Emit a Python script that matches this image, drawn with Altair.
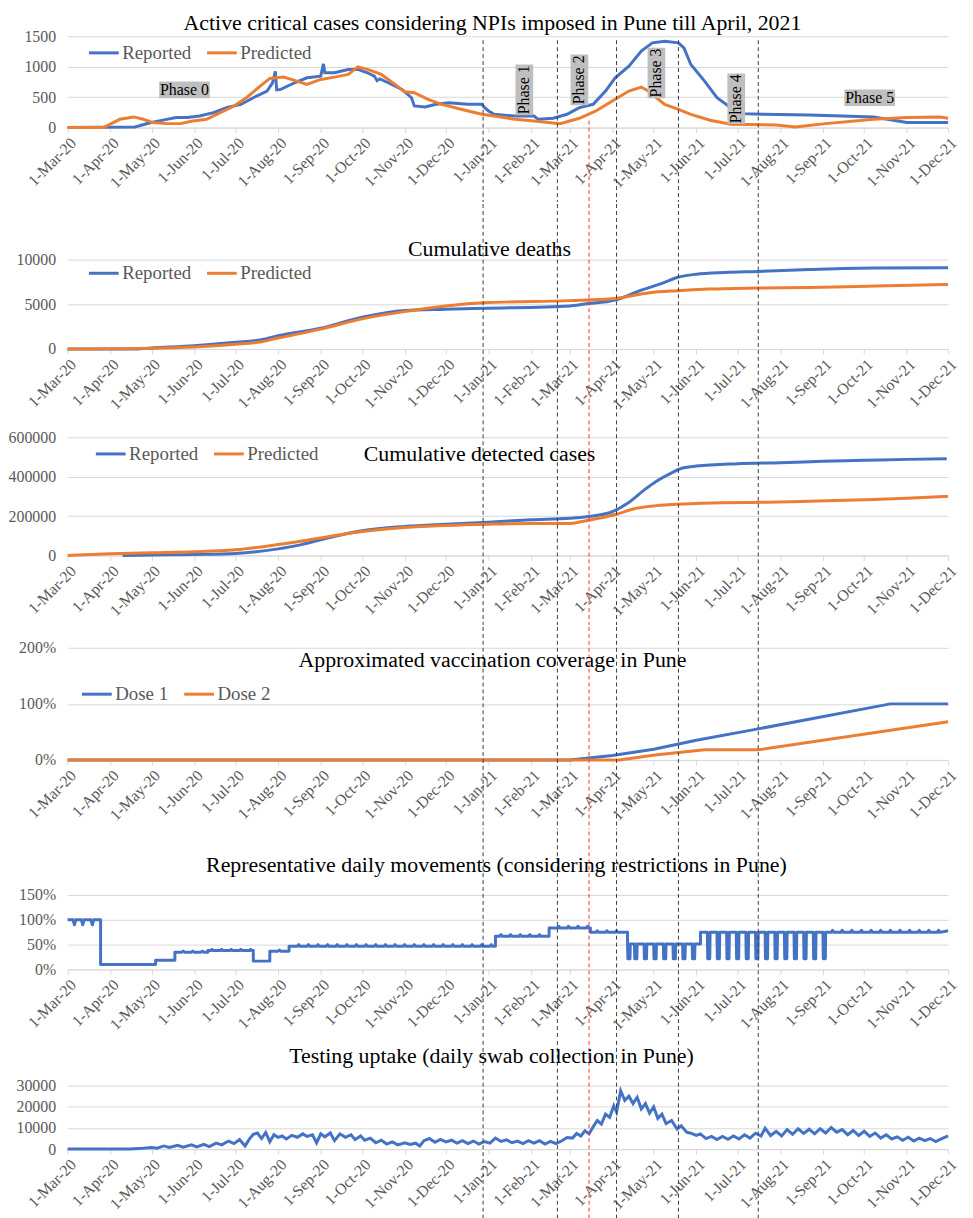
import altair as alt
import pandas as pd

FONT = "Liberation Serif"
BLUE = "#4472C4"
ORANGE = "#ED7D31"
GRID = "#D9D9D9"
GREY = "#595959"
W = 887

# ---------------- data ----------------
crit_reported = [
    ("2020-03-01", 0), ("2020-04-19", 10), ("2020-04-30", 80), ("2020-05-12", 135), ("2020-05-19", 165),
    ("2020-05-27", 165), ("2020-06-05", 190), ("2020-06-15", 245), ("2020-06-25", 330), ("2020-07-05", 380),
    ("2020-07-14", 490), ("2020-07-24", 600), ("2020-07-28", 735), ("2020-07-30", 925), ("2020-07-31", 620),
    ("2020-08-03", 627), ("2020-08-13", 736), ("2020-08-22", 818), ("2020-09-01", 845), ("2020-09-03", 1045),
    ("2020-09-04", 900), ("2020-09-11", 900), ("2020-09-21", 955), ("2020-09-28", 955), ("2020-10-05", 900),
    ("2020-10-10", 845), ("2020-10-12", 770), ("2020-10-14", 800), ("2020-10-20", 736), ("2020-10-30", 627),
    ("2020-11-06", 490), ("2020-11-08", 355), ("2020-11-16", 338), ("2020-11-23", 380), ("2020-12-03", 409),
    ("2020-12-17", 382), ("2020-12-27", 382), ("2020-12-29", 330), ("2021-01-01", 273), ("2021-01-05", 218),
    ("2021-01-20", 190), ("2021-02-03", 190), ("2021-02-06", 136), ("2021-02-17", 153), ("2021-02-27", 218),
    ("2021-03-08", 327), ("2021-03-18", 382), ("2021-03-27", 600), ("2021-04-03", 818), ("2021-04-13", 1009),
    ("2021-04-22", 1255), ("2021-04-30", 1391), ("2021-05-09", 1418), ("2021-05-19", 1391), ("2021-05-23", 1309),
    ("2021-05-28", 1036), ("2021-06-07", 764), ("2021-06-16", 491), ("2021-06-26", 327), ("2021-07-05", 229),
    ("2021-07-19", 218), ("2021-08-22", 207), ("2021-09-15", 190), ("2021-10-08", 175), ("2021-11-01", 82),
    ("2021-12-01", 82),
]
crit_predicted = [
    ("2020-03-01", 0), ("2020-03-27", 0), ("2020-03-31", 44), ("2020-04-08", 136), ("2020-04-18", 175),
    ("2020-04-25", 136), ("2020-05-02", 82), ("2020-05-12", 65), ("2020-05-22", 65), ("2020-05-31", 109),
    ("2020-06-10", 136), ("2020-06-20", 245), ("2020-06-30", 355), ("2020-07-09", 490), ("2020-07-19", 682),
    ("2020-07-26", 807), ("2020-08-05", 829), ("2020-08-13", 775), ("2020-08-22", 709), ("2020-09-01", 791),
    ("2020-09-11", 829), ("2020-09-21", 873), ("2020-09-28", 998), ("2020-10-05", 955), ("2020-10-15", 873),
    ("2020-10-25", 709), ("2020-11-01", 589), ("2020-11-08", 573), ("2020-11-18", 464), ("2020-11-28", 382),
    ("2020-12-12", 300), ("2020-12-27", 218), ("2021-01-05", 190), ("2021-01-20", 136), ("2021-02-03", 109),
    ("2021-02-22", 65), ("2021-03-08", 153), ("2021-03-20", 273), ("2021-04-03", 464), ("2021-04-13", 600),
    ("2021-04-22", 666), ("2021-04-27", 600), ("2021-05-09", 382), ("2021-05-19", 300), ("2021-05-28", 218),
    ("2021-06-11", 120), ("2021-06-26", 55), ("2021-07-29", 44), ("2021-08-12", 11), ("2021-09-03", 65),
    ("2021-10-08", 136), ("2021-11-01", 164), ("2021-11-25", 175), ("2021-12-01", 153),
]
phase_h = [("2020-05-25", 620, "Phase 0"), ("2021-10-05", 490, "Phase 5")]
phase_v = [("2021-01-27", 620, "Phase 1"), ("2021-03-08", 783, "Phase 2"),
           ("2021-05-03", 897, "Phase 3"), ("2021-06-30", 473, "Phase 4")]

deaths_reported = [
    ("2020-03-01", 0), ("2020-04-20", 0), ("2020-05-01", 110), ("2020-06-01", 370), ("2020-07-01", 740),
    ("2020-07-20", 1040), ("2020-08-01", 1480), ("2020-09-01", 2330), ("2020-10-01", 3550), ("2020-11-01", 4300),
    ("2020-12-01", 4440), ("2021-01-01", 4560), ("2021-03-01", 4820), ("2021-03-12", 5040), ("2021-04-03", 5480),
    ("2021-04-22", 6590), ("2021-05-07", 7330), ("2021-05-18", 8000), ("2021-06-01", 8370), ("2021-06-22", 8560),
    ("2021-07-16", 8670), ("2021-08-22", 8890), ("2021-10-09", 9070), ("2021-12-01", 9080),
]
deaths_predicted = [
    ("2020-03-01", 0), ("2020-04-01", 10), ("2020-05-01", 70), ("2020-06-01", 220), ("2020-07-01", 520),
    ("2020-07-20", 815), ("2020-08-01", 1220), ("2020-09-01", 2220), ("2020-10-01", 3370), ("2020-11-01", 4190),
    ("2020-12-01", 4820), ("2021-01-01", 5190), ("2021-03-01", 5410), ("2021-04-03", 5650), ("2021-04-28", 6300),
    ("2021-05-18", 6520), ("2021-06-10", 6700), ("2021-07-16", 6820), ("2021-08-22", 6890), ("2021-10-09", 7040),
    ("2021-12-01", 7220),
]

cases_reported = [
    ("2020-04-10", 0), ("2020-05-01", 1700), ("2020-06-01", 5000), ("2020-07-01", 10000), ("2020-08-01", 33500),
    ("2020-08-18", 55000), ("2020-09-01", 80000), ("2020-10-01", 125700), ("2020-11-01", 147500),
    ("2020-12-01", 159000), ("2021-01-01", 169000), ("2021-02-01", 181000), ("2021-03-01", 189000),
    ("2021-03-20", 203000), ("2021-03-31", 219500), ("2021-04-12", 265000), ("2021-04-24", 332000),
    ("2021-05-03", 377000), ("2021-05-13", 415600), ("2021-05-22", 444000), ("2021-06-01", 454000),
    ("2021-07-01", 466000), ("2021-08-01", 471000), ("2021-09-01", 478000), ("2021-10-01", 483000),
    ("2021-11-01", 488000), ("2021-11-30", 491000),
]
cases_predicted = [
    ("2020-03-01", 0), ("2020-04-01", 8400), ("2020-05-01", 13400), ("2020-06-01", 18400), ("2020-07-01", 28500),
    ("2020-08-01", 55300), ("2020-09-01", 88800), ("2020-10-01", 122000), ("2020-11-01", 142000),
    ("2020-12-01", 152500), ("2021-01-01", 159000), ("2021-02-01", 162500), ("2021-03-01", 162500),
    ("2021-03-10", 172600), ("2021-03-20", 186000), ("2021-04-04", 209500), ("2021-04-16", 236000),
    ("2021-05-03", 253000), ("2021-05-22", 261500), ("2021-06-21", 268000), ("2021-07-23", 270000),
    ("2021-08-28", 276500), ("2021-10-01", 283000), ("2021-11-01", 290000), ("2021-12-01", 300000),
]

dose1 = [("2020-03-01", 0), ("2021-03-01", 0), ("2021-04-01", 8), ("2021-05-01", 19), ("2021-06-01", 35),
         ("2021-07-15", 55), ("2021-10-20", 100), ("2021-12-01", 100)]
dose2 = [("2020-03-01", 0), ("2021-04-06", 0), ("2021-05-02", 9), ("2021-06-07", 18), ("2021-07-16", 18),
         ("2021-12-01", 68)]

# movements: (segment start, base level %, event level %, event dates, event length in days)
mob_segments = [
    ("2020-03-01", 100, 90, ["2020-03-06", "2020-03-12", "2020-03-19"], 1),
    ("2020-03-25", 10, 10, [], 1),
    ("2020-05-04", 18.7, 18.7, [], 1),
    ("2020-05-18", 34.7, 37, ["2020-05-24", "2020-05-31", "2020-06-07"], 1),
    ("2020-06-11", 38, 40.5, ["2020-06-14", "2020-06-21", "2020-06-28", "2020-07-05", "2020-07-12"], 1),
    ("2020-07-14", 16.7, 16.7, [], 1),
    ("2020-07-26", 36.7, 39, ["2020-08-02"], 1),
    ("2020-08-09", 46.7, 50, ["2020-08-16", "2020-08-23", "2020-08-30", "2020-09-06", "2020-09-13",
                              "2020-09-20", "2020-09-27", "2020-10-04", "2020-10-11", "2020-10-18",
                              "2020-10-25", "2020-11-01", "2020-11-08", "2020-11-15", "2020-11-22",
                              "2020-11-29", "2020-12-06", "2020-12-13", "2020-12-20", "2020-12-27",
                              "2021-01-03"], 1),
    ("2021-01-06", 66.7, 70, ["2021-01-10", "2021-01-17", "2021-01-24", "2021-01-31", "2021-02-07"], 1),
    ("2021-02-14", 83.3, 87, ["2021-02-21", "2021-02-28", "2021-03-07", "2021-03-14"], 1),
    ("2021-03-16", 74.7, 78, ["2021-03-21", "2021-03-28", "2021-04-04"], 1),
    ("2021-04-12", 51.3, 21.3, ["2021-04-12", "2021-04-17", "2021-04-24", "2021-05-01", "2021-05-08",
                                "2021-05-15", "2021-05-22", "2021-05-29"], 2),
    ("2021-06-04", 74.7, 21.3, ["2021-06-09", "2021-06-16", "2021-06-23", "2021-06-30", "2021-07-07",
                                "2021-07-14", "2021-07-21", "2021-07-28", "2021-08-04", "2021-08-11",
                                "2021-08-18", "2021-08-25", "2021-09-01"], 2),
    ("2021-09-03", 74.7, 79, ["2021-09-08", "2021-09-15", "2021-09-22", "2021-09-29", "2021-10-06",
                              "2021-10-13", "2021-10-20", "2021-10-27", "2021-11-03", "2021-11-10",
                              "2021-11-17", "2021-11-24"], 1),
]
mob_end = ("2021-12-01", 78)

testing = [
    ("2020-03-01", 0), ("2020-04-15", 0), ("2020-04-25", 400), ("2020-05-01", 800), ("2020-05-05", 400),
    ("2020-05-10", 1500), ("2020-05-14", 800), ("2020-05-20", 1800), ("2020-05-24", 900), ("2020-05-30", 2000),
    ("2020-06-03", 1000), ("2020-06-08", 2200), ("2020-06-12", 1200), ("2020-06-17", 2800), ("2020-06-21", 2000),
    ("2020-06-26", 3800), ("2020-06-30", 2600), ("2020-07-04", 4500), ("2020-07-08", 1500), ("2020-07-11", 4600),
    ("2020-07-14", 7000), ("2020-07-17", 7600), ("2020-07-20", 5000), ("2020-07-23", 7800), ("2020-07-26", 3500),
    ("2020-07-29", 6800), ("2020-08-01", 5500), ("2020-08-04", 6200), ("2020-08-07", 4800), ("2020-08-11", 6500),
    ("2020-08-15", 5600), ("2020-08-19", 7200), ("2020-08-22", 6000), ("2020-08-26", 6800), ("2020-08-29", 3000),
    ("2020-09-01", 7200), ("2020-09-04", 5800), ("2020-09-08", 7600), ("2020-09-11", 4000), ("2020-09-15", 7200),
    ("2020-09-19", 5600), ("2020-09-23", 6800), ("2020-09-26", 4500), ("2020-09-30", 6200), ("2020-10-03", 4200),
    ("2020-10-07", 5200), ("2020-10-11", 3000), ("2020-10-15", 4200), ("2020-10-19", 2400), ("2020-10-23", 3400),
    ("2020-10-27", 2000), ("2020-11-01", 3000), ("2020-11-05", 2200), ("2020-11-09", 2800), ("2020-11-12", 1500),
    ("2020-11-15", 4000), ("2020-11-19", 5000), ("2020-11-23", 3200), ("2020-11-27", 4600), ("2020-12-01", 3400),
    ("2020-12-05", 4200), ("2020-12-09", 2800), ("2020-12-13", 4000), ("2020-12-17", 2600), ("2020-12-21", 3800),
    ("2020-12-25", 2400), ("2020-12-29", 3600), ("2021-01-02", 2800), ("2021-01-06", 5200), ("2021-01-10", 3600),
    ("2021-01-14", 4400), ("2021-01-18", 3000), ("2021-01-22", 3800), ("2021-01-26", 2600), ("2021-01-30", 4000),
    ("2021-02-03", 2800), ("2021-02-07", 4000), ("2021-02-11", 2400), ("2021-02-15", 3600), ("2021-02-19", 2600),
    ("2021-02-23", 3800), ("2021-02-27", 5500), ("2021-03-03", 5200), ("2021-03-06", 7400), ("2021-03-09", 6200),
    ("2021-03-12", 8600), ("2021-03-15", 7200), ("2021-03-18", 10500), ("2021-03-21", 13500), ("2021-03-24", 11800),
    ("2021-03-27", 16500), ("2021-03-30", 15000), ("2021-04-02", 20500), ("2021-04-04", 17500), ("2021-04-07", 27500),
    ("2021-04-10", 23000), ("2021-04-13", 25000), ("2021-04-16", 21500), ("2021-04-19", 24500), ("2021-04-22", 19000),
    ("2021-04-25", 21500), ("2021-04-28", 17000), ("2021-05-01", 20000), ("2021-05-04", 14500), ("2021-05-07", 16500),
    ("2021-05-10", 12000), ("2021-05-14", 13500), ("2021-05-18", 9500), ("2021-05-21", 11000), ("2021-05-25", 8000),
    ("2021-05-28", 7500), ("2021-06-01", 6500), ("2021-06-04", 7200), ("2021-06-08", 5000), ("2021-06-12", 6000),
    ("2021-06-16", 4500), ("2021-06-20", 6000), ("2021-06-24", 4600), ("2021-06-28", 6200), ("2021-07-02", 4800),
    ("2021-07-06", 6800), ("2021-07-10", 5200), ("2021-07-14", 7500), ("2021-07-18", 6200), ("2021-07-21", 9800),
    ("2021-07-25", 6400), ("2021-07-29", 8400), ("2021-08-02", 6200), ("2021-08-06", 9200), ("2021-08-10", 7000),
    ("2021-08-14", 9600), ("2021-08-18", 7400), ("2021-08-22", 9400), ("2021-08-26", 7200), ("2021-08-30", 9600),
    ("2021-09-03", 7600), ("2021-09-07", 10200), ("2021-09-11", 8000), ("2021-09-15", 9200), ("2021-09-19", 6800),
    ("2021-09-23", 8800), ("2021-09-27", 6400), ("2021-10-01", 8400), ("2021-10-05", 6000), ("2021-10-09", 7600),
    ("2021-10-13", 5200), ("2021-10-17", 6800), ("2021-10-21", 4800), ("2021-10-25", 5800), ("2021-10-29", 4200),
    ("2021-11-02", 5600), ("2021-11-06", 3800), ("2021-11-10", 5200), ("2021-11-14", 4000), ("2021-11-18", 5000),
    ("2021-11-22", 3600), ("2021-11-26", 4800), ("2021-12-01", 6200),
]

npi_dates = ["2020-12-28", "2021-02-20", "2021-04-04", "2021-05-19", "2021-07-16"]
red_date = ["2021-03-15"]

titles = [
    "Active critical cases considering NPIs imposed in Pune till April, 2021",
    "Cumulative deaths",
    "Cumulative detected cases",
    "Approximated vaccination coverage in Pune",
    "Representative daily movements (considering restrictions in Pune)",
    "Testing uptake (daily swab collection in Pune)",
]


# ---------------- helpers ----------------
def frame(pairs, series=None):
    df = pd.DataFrame({"date": pd.to_datetime([p[0] for p in pairs]), "value": [p[1] for p in pairs]})
    if series is not None:
        df["series"] = series
    return df


def mobility_frame():
    """Turn the segment table into an ordered polyline (vertical jumps between levels)."""
    rows = []
    prev = None
    day = pd.Timedelta(days=1)
    q = pd.Timedelta(hours=6)
    for start, base, ev, dates, length in mob_segments:
        t0 = pd.Timestamp(start)
        if prev is not None:
            rows.append((t0, prev))
        rows.append((t0, base))
        for d in dates:
            t = pd.Timestamp(d)
            if length == 1:       # short spike / dip
                rows += [(t - day, base), (t, ev), (t + day, base)]
            else:                 # multi-day trough
                rows += [(t, base), (t + q, ev), (t + length * day - q, ev), (t + length * day, base)]
        prev = base
    rows.append((pd.Timestamp(mob_end[0]), mob_end[1]))
    df = pd.DataFrame(rows, columns=["date", "value"])
    df["i"] = range(len(df))
    return df


XDOM = [alt.DateTime(year=2020, month=3, date=1), alt.DateTime(year=2021, month=12, date=1)]


def xenc():
    return alt.X(
        "date:T", title=None,
        scale=alt.Scale(domain=XDOM, nice=False),
        axis=alt.Axis(format="%-d-%b-%y", tickCount={"interval": "month", "step": 1},
                      labelAngle=-45, labelOverlap=False, labelFlush=False, grid=False,
                      domainColor=GRID, tickColor=GRID, tickSize=5,
                      labelFont=FONT, labelFontSize=16, labelColor=GREY, labelPadding=2),
    )


def yenc(dmax, values, expr=None):
    ax = dict(values=values, grid=True, gridColor=GRID, domain=False, ticks=False,
              labelFont=FONT, labelFontSize=16, labelColor=GREY, labelPadding=12)
    if expr:
        ax["labelExpr"] = expr
    else:
        ax["format"] = "d"
    return alt.Y("value:Q", title=None, scale=alt.Scale(domain=[0, dmax], nice=False),
                 axis=alt.Axis(**ax))


def legend(lx, ly):
    return alt.Legend(orient="none", legendX=lx, legendY=ly, direction="horizontal", title=None,
                      symbolType="stroke", symbolSize=900, symbolStrokeWidth=3,
                      labelFont=FONT, labelFontSize=19, labelColor=GREY, labelOffset=2,
                      columnPadding=9, padding=0)


def series_layers(pairs_list, names, colors, ydef, leg, interp="linear"):
    out = []
    for pairs, name in zip(pairs_list, names):
        col = alt.Color("series:N", scale=alt.Scale(domain=names, range=colors),
                        legend=leg if leg is not None else None)
        out.append(alt.Chart(frame(pairs, name)).mark_line(strokeWidth=3, interpolate=interp)
                   .encode(x=xenc(), y=ydef, color=col))
    return out


def rule_layers(h, top, bot, black_top=None, red_top=None):
    b0 = -top if black_top is None else black_top
    r0 = -top if red_top is None else red_top
    black = alt.Chart(frame([(d, 0) for d in npi_dates])).mark_rule(
        color="#3C3C3C", strokeDash=[4, 3], strokeWidth=1
    ).encode(x=xenc(), y=alt.value(b0), y2=alt.value(h + bot))
    red = alt.Chart(frame([(d, 0) for d in red_date])).mark_rule(
        color="#FF3030", strokeDash=[4, 3], strokeWidth=1
    ).encode(x=xenc(), y=alt.value(r0), y2=alt.value(h + bot))
    return [black, red]


def title_layer(text, tx, ty):
    return alt.Chart(pd.DataFrame({"k": [0]})).mark_text(
        text=text, font=FONT, fontSize=22, color="black", align="center", baseline="middle"
    ).encode(x=alt.value(tx), y=alt.value(ty))


# ---------------- panel 1 ----------------
h1 = 92
y1 = yenc(1500, [0, 500, 1000, 1500])
ph_h = pd.DataFrame({"date": pd.to_datetime([p[0] for p in phase_h]),
                     "value": [p[1] for p in phase_h], "label": [p[2] for p in phase_h]})
ph_v = pd.DataFrame({"date": pd.to_datetime([p[0] for p in phase_v]),
                     "value": [p[1] for p in phase_v], "label": [p[2] for p in phase_v]})
box_h = alt.Chart(ph_h).mark_point(shape="M-1,-0.33H1V0.33H-1Z", size=2601, filled=True,
                                   color="#BFBFBF", opacity=1).encode(x=xenc(), y=y1)
box_v = alt.Chart(ph_v).mark_point(shape="M-0.35,-1H0.35V1H-0.35Z", size=2601, filled=True,
                                   color="#BFBFBF", opacity=1).encode(x=xenc(), y=y1)
txt_h = alt.Chart(ph_h).mark_text(font=FONT, fontSize=16, color="black").encode(
    x=xenc(), y=y1, text="label:N")
txt_v = alt.Chart(ph_v).mark_text(font=FONT, fontSize=16, color="black", angle=270).encode(
    x=xenc(), y=y1, text="label:N")

p1 = alt.layer(
    *series_layers([crit_reported, crit_predicted], ["Reported", "Predicted"], [BLUE, ORANGE], y1, legend(20, 0)),
    box_h, box_v, txt_h, txt_v,
    *rule_layers(h1, 0, 75, black_top=4, red_top=85),
    title_layer(titles[0], 428, -13),
).properties(width=W, height=h1)

# ---------------- panel 2 ----------------
h2 = 90
y2 = yenc(10000, [0, 5000, 10000])
p2 = alt.layer(
    *series_layers([deaths_reported, deaths_predicted], ["Reported", "Predicted"], [BLUE, ORANGE], y2,
                   legend(20, -3), interp="monotone"),
    *rule_layers(h2, 56, 70),
    title_layer(titles[1], 425, -11),
).properties(width=W, height=h2)

# ---------------- panel 3 ----------------
h3 = 119
y3 = yenc(600000, [0, 200000, 400000, 600000])
p3 = alt.layer(
    *series_layers([cases_reported, cases_predicted], ["Reported", "Predicted"], [BLUE, ORANGE], y3,
                   legend(27, 0), interp="monotone"),
    *rule_layers(h3, 17, 70),
    title_layer(titles[2], 415, 17),
).properties(width=W, height=h3)

# ---------------- panel 4 ----------------
h4 = 113
y4 = yenc(200, [0, 100, 200], expr="datum.value + '%'")
p4 = alt.layer(
    *series_layers([dose1, dose2], ["Dose 1", "Dose 2"], [BLUE, ORANGE], y4, legend(13, 30)),
    *rule_layers(h4, 21, 70),
    title_layer(titles[3], 428, 12),
).properties(width=W, height=h4)

# ---------------- panel 5 ----------------
h5 = 75
y5 = yenc(150, [0, 50, 100, 150], expr="datum.value + '%'")
mob_line = alt.Chart(mobility_frame()).mark_line(strokeWidth=3, color=BLUE, strokeJoin="round").encode(
    x=xenc(), y=y5, order=alt.Order("i:Q"))
p5 = alt.layer(
    mob_line,
    *rule_layers(h5, 64, 70),
    title_layer(titles[4], 432, -30),
).properties(width=W, height=h5)

# ---------------- panel 6 ----------------
h6 = 64
y6 = yenc(30000, [0, 10000, 20000, 30000])
test_line = alt.Chart(frame(testing)).mark_line(strokeWidth=3, color=BLUE).encode(x=xenc(), y=y6)
p6 = alt.layer(
    test_line,
    *rule_layers(h6, 45, 72),
    title_layer(titles[5], 427, -30),
).properties(width=W, height=h6)

chart = (
    alt.vconcat(p1, p2, p3, p4, p5, p6, spacing=0)
    .properties(padding={"left": 0, "right": 5, "top": 0, "bottom": 0})
    .resolve_scale(x="independent", y="independent", color="independent")
    .resolve_legend(color="independent")
    .configure_view(stroke=None)
)

chart.save("out.html", embed_options={"renderer": "svg", "actions": False})
